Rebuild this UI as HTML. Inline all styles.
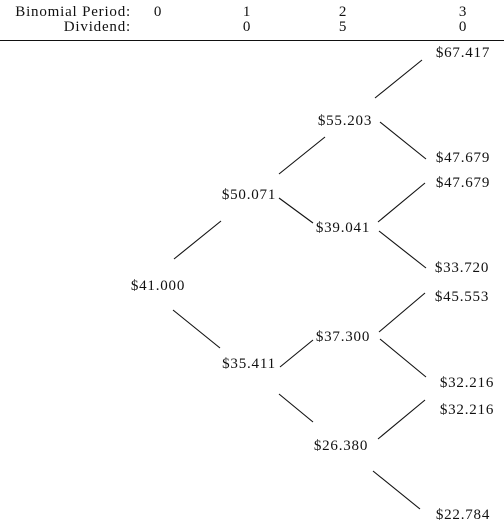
<!DOCTYPE html>
<html><head><meta charset="utf-8"><style>
html,body{margin:0;padding:0;background:#fff;}
svg{display:block;}
text{font-family:"Liberation Serif",serif;font-size:15px;fill:#111;letter-spacing:0.8px;}
line{stroke:#111;stroke-width:1.1;}
</style></head><body>
<svg width="504" height="521" viewBox="0 0 504 521">
<g text-anchor="end">
<text x="131" y="16">Binomial Period:</text>
<text x="131" y="31">Dividend:</text>
</g>
<g text-anchor="middle">
<text x="158" y="16">0</text>
<text x="247" y="16">1</text><text x="247" y="31">0</text>
<text x="343" y="16">2</text><text x="343" y="31">5</text>
<text x="463" y="16">3</text><text x="463" y="31">0</text>
</g>
<line x1="0" y1="40.5" x2="504" y2="40.5"/>
<g text-anchor="middle" dominant-baseline="central">
<text x="463" y="53">$67.417</text>
<text x="345" y="121">$55.203</text>
<text x="463" y="158">$47.679</text>
<text x="463" y="183">$47.679</text>
<text x="249" y="195">$50.071</text>
<text x="343" y="228">$39.041</text>
<text x="462" y="268">$33.720</text>
<text x="158" y="286">$41.000</text>
<text x="462" y="297">$45.553</text>
<text x="343" y="337">$37.300</text>
<text x="249" y="364">$35.411</text>
<text x="467" y="383">$32.216</text>
<text x="467" y="410">$32.216</text>
<text x="341" y="446">$26.380</text>
<text x="463" y="515">$22.784</text>
</g>
<line x1="375" y1="98" x2="422" y2="60"/>
<line x1="380" y1="122" x2="426" y2="159"/>
<line x1="279" y1="174" x2="325" y2="137"/>
<line x1="279" y1="198" x2="313" y2="223"/>
<line x1="378" y1="222" x2="425" y2="183"/>
<line x1="379" y1="231" x2="426" y2="268"/>
<line x1="174" y1="259" x2="221" y2="221"/>
<line x1="173" y1="310" x2="220" y2="348"/>
<line x1="280" y1="367" x2="313" y2="340"/>
<line x1="379" y1="332" x2="425" y2="293"/>
<line x1="380" y1="339" x2="426" y2="377"/>
<line x1="279" y1="394" x2="313" y2="422"/>
<line x1="378" y1="439" x2="425" y2="400"/>
<line x1="373" y1="471" x2="420" y2="509"/>
</svg>
</body></html>
